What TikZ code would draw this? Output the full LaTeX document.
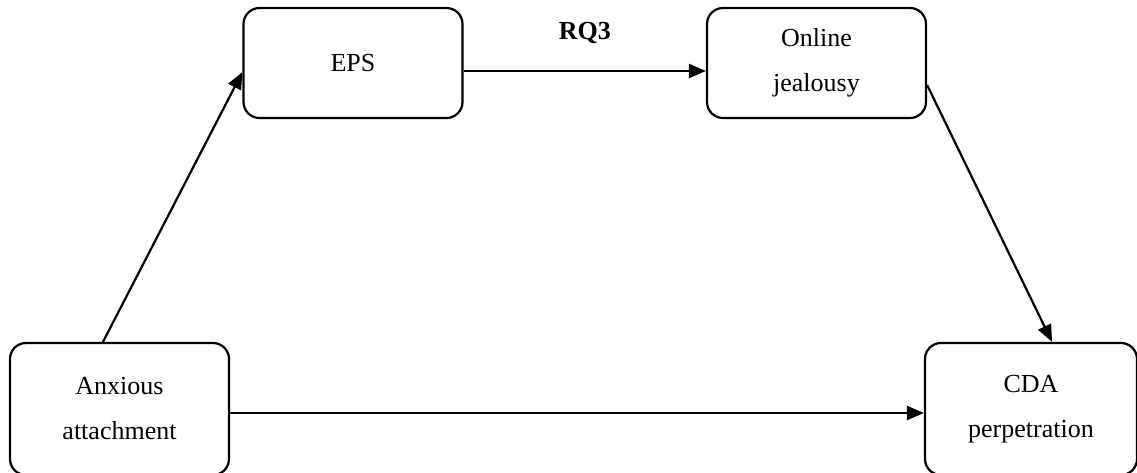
\documentclass[tikz,border=0pt]{standalone}
\usepackage{fontspec}
\setmainfont{Liberation Serif}
\usetikzlibrary{positioning,arrows.meta}
\tikzset{
  varbox/.style={draw, line width=1.1pt, rounded corners=8pt, align=center,
    minimum width=109.5pt, minimum height=55pt,
    font=\fontsize{13}{22.5}\selectfont},
  path/.style={line width=1.1pt, -{Triangle[length=8.5pt,width=7pt]}}
}
\begin{document}
\begin{tikzpicture}
      \useasboundingbox (-59.75pt,-31.5pt) rectangle (508.75pt,204.5pt);
      \node[varbox, minimum height=66pt] (Anx) {Anxious\\attachment};
      \node[varbox, on grid, above right=173pt and 116.75pt of Anx] (EPS) {EPS};
      \node[varbox, on grid, right=231.75pt of EPS] (Online) {Online\\jealousy};
      \node[varbox, on grid, right=455.75pt of Anx, minimum width=106pt, minimum height=66pt] (CDA) {CDA\\perpetration};
      \draw[path] ([xshift=-8.25pt]Anx.north) to ([yshift=-4.5pt]EPS.west);
      \draw[path] ([yshift=-4pt]EPS.east) to node[above=10pt, font=\fontsize{13}{15}\selectfont\bfseries] (RQ) {RQ3} ([yshift=-4pt]Online.west);
      \draw[path] ([yshift=-11pt]Online.east) to ([xshift=10.5pt]CDA.north);
      \draw[path] ([yshift=-2pt]Anx.east) to ([yshift=-2pt]CDA.west);
    \end{tikzpicture}
\end{document}
